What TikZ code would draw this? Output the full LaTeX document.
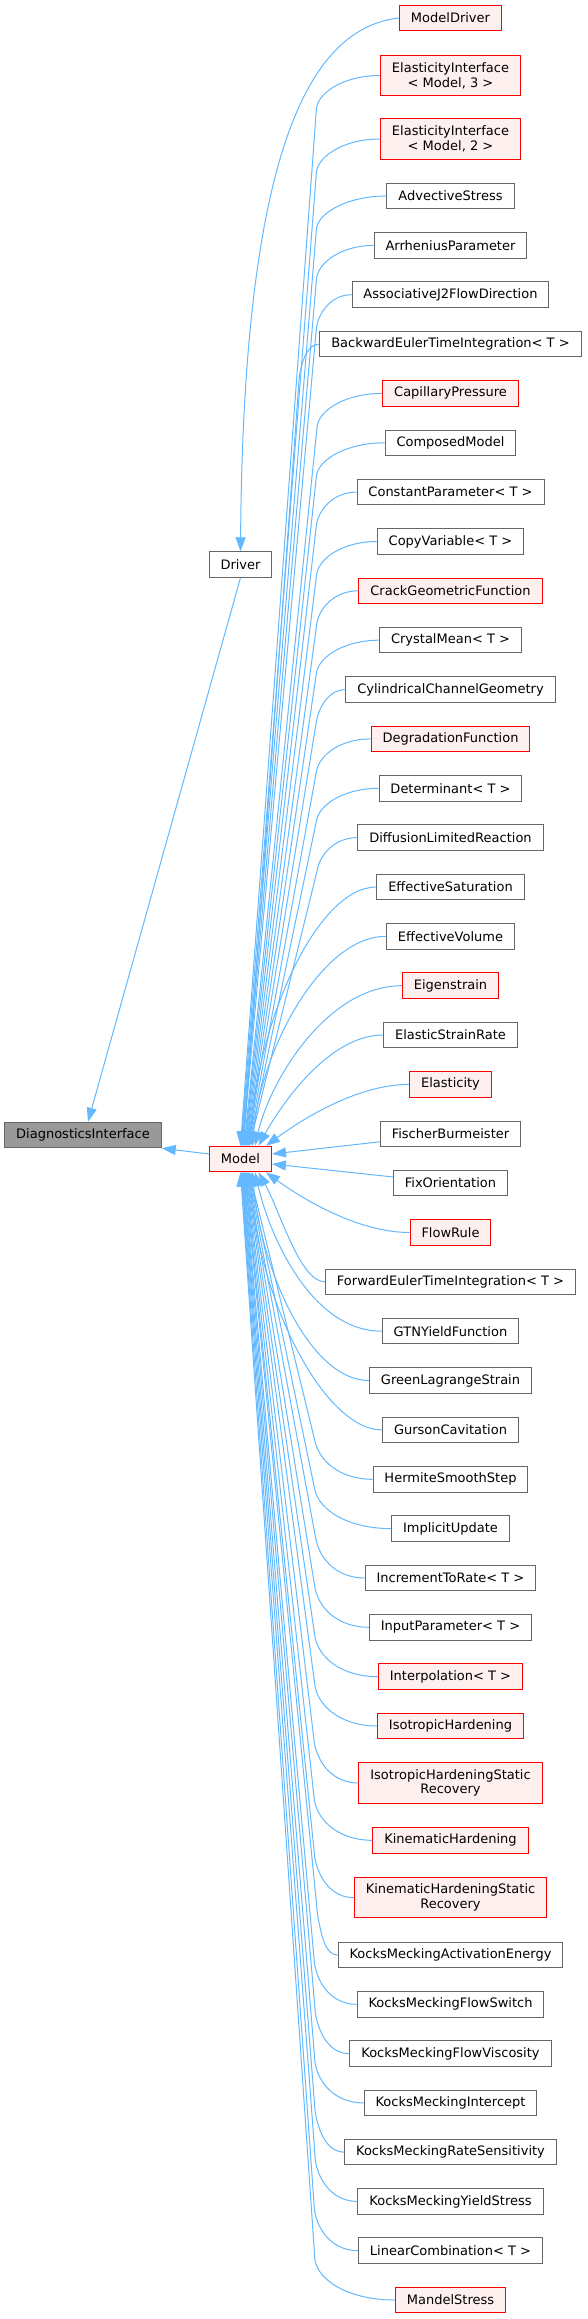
\documentclass[tikz,border=0pt]{standalone}
\usepackage{fontspec}
\newfontfamily\dejavu{DejaVu Sans}
\usepackage{tikz}
\usetikzlibrary{arrows.meta,calc}
\definecolor{inhc}{HTML}{63B8FF}
\definecolor{truncc}{HTML}{FF0000}
\definecolor{truncfill}{HTML}{FFF0F0}
\definecolor{plainc}{HTML}{666666}
\definecolor{rootfill}{HTML}{999999}
\tikzset{
  cls/.style   = {draw=plainc, fill=white, line width=0.75pt, inner xsep=8.6pt, inner ysep=0pt,
                  minimum height=19.1pt, align=center, text=black,
                  font=\dejavu\fontsize{9.75}{11}\selectfont},
  trunc/.style = {cls, draw=truncc, fill=truncfill},
  root/.style  = {cls, fill=rootfill},
  tall/.style  = {minimum height=30.4pt},
  inh/.style   = {draw=inhc, line width=0.75pt, -{Triangle[length=10.5pt,width=7.5pt]}},
}

\begin{document}
\begin{tikzpicture}[x=0.75pt, y=-0.75pt]
\useasboundingbox (0,0) rectangle (587,2319);

\node[root] (diag) at (83,1135) {DiagnosticsInterface};
\node[cls] (driver) at (240.5,564.5) {Driver};
\node[trunc] (model) at (240.5,1159) {Model};

% derived classes, one column
\node[trunc] (mdriver) at (450.5,18) {ModelDriver};
\node[trunc, tall] (elif3) at (450.5,75.5) {ElasticityInterface\\< Model, 3 >};
\node[trunc, tall] (elif2) at (450.5,139) {ElasticityInterface\\< Model, 2 >};
\node[cls] (advstress) at (450.5,196) {AdvectiveStress};
\node[cls] (arrhenius) at (450.5,245.4) {ArrheniusParameter};
\node[cls] (assocj2) at (450.5,294.7) {AssociativeJ2FlowDirection};
\node[cls] (backeuler) at (450.5,344.1) {BackwardEulerTimeIntegration< T >};
\node[trunc] (capillary) at (450.5,393.4) {CapillaryPressure};
\node[cls] (composed) at (450.5,442.8) {ComposedModel};
\node[cls] (constparam) at (450.5,492.1) {ConstantParameter< T >};
\node[cls] (copyvar) at (450.5,541.5) {CopyVariable< T >};
\node[trunc] (crackgeo) at (450.5,590.8) {CrackGeometricFunction};
\node[cls] (crystalmean) at (450.5,640.2) {CrystalMean< T >};
\node[cls] (cylchannel) at (450.5,689.6) {CylindricalChannelGeometry};
\node[trunc] (degradation) at (450.5,738.9) {DegradationFunction};
\node[cls] (determinant) at (450.5,788.3) {Determinant< T >};
\node[cls] (difflimited) at (450.5,837.6) {DiffusionLimitedReaction};
\node[cls] (effsat) at (450.5,887) {EffectiveSaturation};
\node[cls] (effvol) at (450.5,936.3) {EffectiveVolume};
\node[trunc] (eigenstrain) at (450.5,985.7) {Eigenstrain};
\node[cls] (elstrainrate) at (450.5,1035) {ElasticStrainRate};
\node[trunc] (elasticity) at (450.5,1084.4) {Elasticity};
\node[cls] (fischer) at (450.5,1133.8) {FischerBurmeister};
\node[cls] (fixorient) at (450.5,1183.1) {FixOrientation};
\node[trunc] (flowrule) at (450.5,1232.5) {FlowRule};
\node[cls] (foreuler) at (450.5,1281.8) {ForwardEulerTimeIntegration< T >};
\node[cls] (gtnyield) at (450.5,1331.2) {GTNYieldFunction};
\node[cls] (greenlag) at (450.5,1380.5) {GreenLagrangeStrain};
\node[cls] (gurson) at (450.5,1429.9) {GursonCavitation};
\node[cls] (hermite) at (450.5,1479.3) {HermiteSmoothStep};
\node[cls] (implicit) at (450.5,1528.6) {ImplicitUpdate};
\node[cls] (inctorate) at (450.5,1578) {IncrementToRate< T >};
\node[cls] (inputparam) at (450.5,1627.3) {InputParameter< T >};
\node[trunc] (interp) at (450.5,1676.7) {Interpolation< T >};
\node[trunc] (isohard) at (450.5,1726) {IsotropicHardening};
\node[trunc, tall] (isohardrec) at (450.5,1783) {IsotropicHardeningStatic\\Recovery};
\node[trunc] (kinhard) at (450.5,1840.3) {KinematicHardening};
\node[trunc, tall] (kinhardrec) at (450.5,1897.7) {KinematicHardeningStatic\\Recovery};
\node[cls] (kmactenergy) at (450.5,1955) {KocksMeckingActivationEnergy};
\node[cls] (kmflowswitch) at (450.5,2004.3) {KocksMeckingFlowSwitch};
\node[cls] (kmflowvisc) at (450.5,2053.6) {KocksMeckingFlowViscosity};
\node[cls] (kmintercept) at (450.5,2102.9) {KocksMeckingIntercept};
\node[cls] (kmratesens) at (450.5,2152.1) {KocksMeckingRateSensitivity};
\node[cls] (kmyield) at (450.5,2201.4) {KocksMeckingYieldStress};
\node[cls] (lincomb) at (450.5,2250.7) {LinearCombination< T >};
\node[trunc] (mandel) at (450.5,2300) {MandelStress};

% bases
\draw[inh] (driver.south) -- ($(diag.north)+(5,0)$);
\draw[inh] ($(model.west)+(0,-5)$) -- (diag.south east);
\draw[inh] (mdriver.west) .. controls +(-90,10) and +(3,-400) .. (driver.north);

% into the top of Model
\draw[inh] (elif3.west) .. controls +(-35,0) and +(3,-16) .. ++(-63.5,32) -- (model.north);
\draw[inh] (elif2.west) .. controls +(-35,0) and +(3,-16) .. ++(-63.5,32) -- ($(model.north)+(0.6,0)$);
\draw[inh] (advstress.west) .. controls +(-38,0) and +(3,-16) .. ++(-70,32) -- ($(model.north)+(1.2,0)$);
\draw[inh] (arrhenius.west) .. controls +(-31,0) and +(3,-16) .. ++(-57,32) -- ($(model.north)+(1.8,0)$);
\draw[inh] (assocj2.west) .. controls +(-19,0) and +(3,-16) .. ++(-35,32) -- ($(model.north)+(2.4,0)$);
\draw[inh] (backeuler.west) .. controls +(-12,0) and +(3,-16) .. ++(-20,32) -- ($(model.north)+(3,0)$);
\draw[inh] (capillary.west) .. controls +(-36,0) and +(3,-16) .. ++(-65,32) -- ($(model.north)+(3.6,0)$);
\draw[inh] (composed.west) .. controls +(-37,0) and +(3,-16) .. ++(-68,32) -- ($(model.north)+(4.2,0)$);
\draw[inh] (constparam.west) .. controls +(-22,0) and +(3,-16) .. ++(-40,32) -- ($(model.north)+(4.8,0)$);
\draw[inh] (copyvar.west) .. controls +(-33,0) and +(3,-16) .. ++(-60,32) -- ($(model.north)+(5.4,0)$);
\draw[inh] (crackgeo.west) .. controls +(-23,0) and +(3,-16) .. ++(-41.5,32) -- ($(model.north)+(6,0)$);
\draw[inh] (crystalmean.west) .. controls +(-34,0) and +(3,-16) .. ++(-62.5,32) -- ($(model.north)+(6.6,0)$);
\draw[inh] (cylchannel.west) .. controls +(-16,0) and +(3,-16) .. ++(-29,32) -- ($(model.north)+(7.2,0)$);
\draw[inh] (degradation.west) .. controls +(-30,0) and +(3,-16) .. ++(-54,32) -- ($(model.north)+(7.8,0)$);
\draw[inh] (determinant.west) .. controls +(-34,0) and +(3,-16) .. ++(-62,32) -- ($(model.north)+(8.4,0)$);
\draw[inh] (difflimited.west) .. controls +(-22,0) and +(3,-16) .. ++(-40,32) -- ($(model.north)+(9,0)$);
\draw[inh] (effsat.west) .. controls +(-60,0) and +(5,-120) .. ($(model.north)+(10.5,0)$);
\draw[inh] (effvol.west) .. controls +(-65,0) and +(8,-95) .. ($(model.north)+(12,0)$);
\draw[inh] (eigenstrain.west) .. controls +(-75,0) and +(15,-65) .. ($(model.north)+(14.5,0)$);
\draw[inh] (elstrainrate.west) .. controls +(-55,0) and +(22,-40) .. ($(model.north)+(18,0)$);
\draw[inh] (elasticity.west) .. controls +(-55,0) and +(30,-22) .. ($(model.north east)+(-6,0)$);

% into the side of Model
\draw[inh] (fischer) -- ($(model.east)+(0,-5)$);
\draw[inh] (fixorient) -- ($(model.east)+(0,5)$);

% into the bottom of Model
\draw[inh] (flowrule.west) .. controls +(-55,0) and +(30,22) .. ($(model.south east)+(-6,0)$);
\draw[inh] (foreuler.west) .. controls +(-25,0) and +(22,40) .. ($(model.south)+(18,0)$);
\draw[inh] (gtnyield.west) .. controls +(-70,0) and +(15,65) .. ($(model.south)+(14.5,0)$);
\draw[inh] (greenlag.west) .. controls +(-60,0) and +(8,95) .. ($(model.south)+(12,0)$);
\draw[inh] (gurson.west) .. controls +(-60,0) and +(5,120) .. ($(model.south)+(10.5,0)$);
\draw[inh] (hermite.west) .. controls +(-32,0) and +(4,22) .. ++(-58,-40) -- ($(model.south)+(8.8,0)$);
\draw[inh] (implicit.west) .. controls +(-42,0) and +(4,22) .. ++(-76.5,-40) -- ($(model.south)+(8.3,0)$);
\draw[inh] (inctorate.west) .. controls +(-27,0) and +(4,22) .. ++(-49,-40) -- ($(model.south)+(7.7,0)$);
\draw[inh] (inputparam.west) .. controls +(-30,0) and +(4,22) .. ++(-54,-40) -- ($(model.south)+(7.2,0)$);
\draw[inh] (interp.west) .. controls +(-35,0) and +(4,22) .. ++(-63,-40) -- ($(model.south)+(6.6,0)$);
\draw[inh] (isohard.west) .. controls +(-34,0) and +(4,22) .. ++(-62,-40) -- ($(model.south)+(6.1,0)$);
\draw[inh] (isohardrec.west) .. controls +(-24,0) and +(4,22) .. ++(-44,-40) -- ($(model.south)+(5.5,0)$);
\draw[inh] (kinhard.west) .. controls +(-32,0) and +(4,22) .. ++(-58,-40) -- ($(model.south)+(5,0)$);
\draw[inh] (kinhardrec.west) .. controls +(-21,0) and +(4,22) .. ++(-39,-40) -- ($(model.south)+(4.4,0)$);
\draw[inh] (kmactenergy.west) .. controls +(-12,0) and +(4,22) .. ++(-20,-40) -- ($(model.south)+(3.9,0)$);
\draw[inh] (kmflowswitch.west) .. controls +(-23,0) and +(4,22) .. ++(-42,-40) -- ($(model.south)+(3.3,0)$);
\draw[inh] (kmflowvisc.west) .. controls +(-19,0) and +(4,22) .. ++(-34,-40) -- ($(model.south)+(2.8,0)$);
\draw[inh] (kmintercept.west) .. controls +(-27,0) and +(4,22) .. ++(-48.5,-40) -- ($(model.south)+(2.2,0)$);
\draw[inh] (kmratesens.west) .. controls +(-16,0) and +(4,22) .. ++(-29,-40) -- ($(model.south)+(1.7,0)$);
\draw[inh] (kmyield.west) .. controls +(-23,0) and +(4,22) .. ++(-42,-40) -- ($(model.south)+(1.1,0)$);
\draw[inh] (lincomb.west) .. controls +(-24,0) and +(4,22) .. ++(-43.5,-40) -- ($(model.south)+(0.6,0)$);
\draw[inh] (mandel.west) .. controls +(-44,0) and +(4,22) .. ++(-80,-40) -- (model.south);

\end{tikzpicture}
\end{document}
